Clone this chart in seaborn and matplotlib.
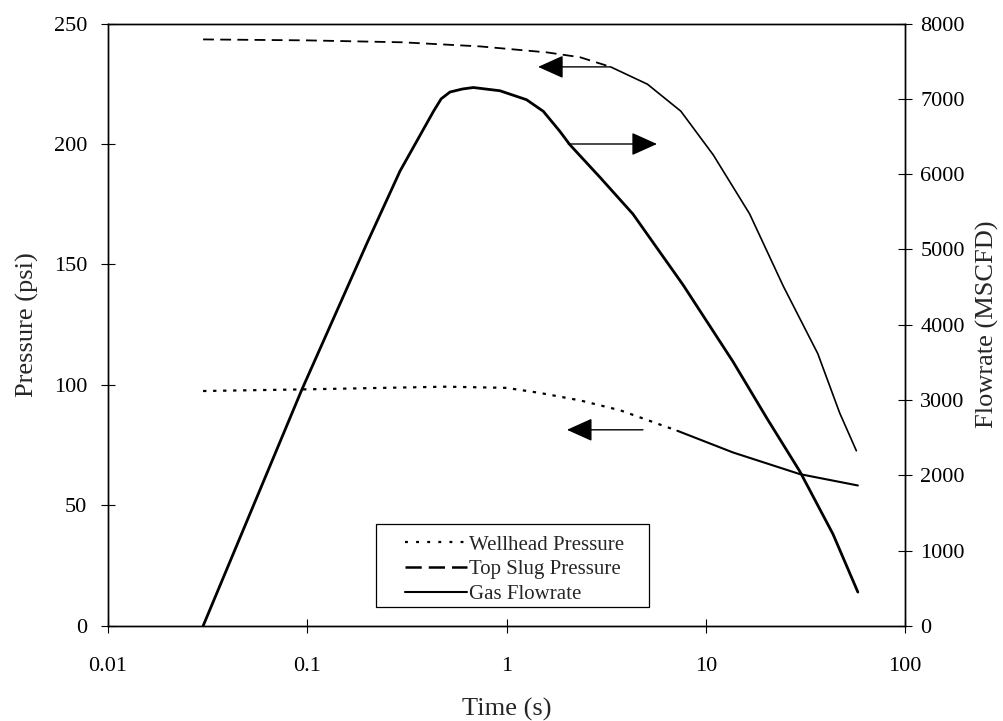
import matplotlib
matplotlib.use("Agg")
import matplotlib.pyplot as plt
import seaborn as sns
import pandas as pd
from matplotlib.lines import Line2D
from matplotlib.patches import Rectangle

# Top slug pressure (psi) vs time (s)
time_top = [0.03, 0.1, 0.3, 0.736, 1.6, 2.34, 3.33, 5.1, 7.5, 10.9, 16.6, 24.5, 36.5, 47, 57]
top_slug = [243.4, 243.0, 242.2, 240.5, 238.0, 236.0, 232.0, 224.8, 213.6, 195.5, 171.0, 141.0, 113.0, 88.4, 72.7]
top_split = 6

# Wellhead pressure (psi) vs time (s)
time_wh = [0.03, 0.1, 0.5, 1.0, 1.47, 2.34, 3.72, 7.2, 13.7, 29.7, 58]
wellhead = [97.5, 98.2, 99.3, 98.8, 96.7, 93.6, 89.5, 81.0, 72.0, 63.0, 58.3]
wh_split = 7

# Gas flowrate (MSCFD) vs time (s)
time_flow = [0.03, 0.0938, 0.1986, 0.292, 0.43, 0.47, 0.52, 0.6, 0.681, 0.927, 1.26, 1.53,
             1.85, 2.08, 2.94, 4.31, 7.69, 13.7, 20.3, 29.7, 43.5, 58]
flow = [0, 3135, 5073, 6040, 6834, 7000, 7090, 7130, 7150, 7107, 6988, 6834,
        6570, 6390, 5960, 5470, 4530, 3510, 2755, 2050, 1220, 450]

x_ticks = [0.01, 0.1, 1, 10, 100]
x_tick_labels = ["0.01", "0.1", "1", "10", "100"]
p_ticks = [0, 50, 100, 150, 200, 250]
q_ticks = [0, 1000, 2000, 3000, 4000, 5000, 6000, 7000, 8000]

sns.set_style("ticks")
plt.rcParams["font.family"] = ["Liberation Serif", "DejaVu Serif"]

fig = plt.figure(figsize=(10.04, 7.21), dpi=100)
ax = fig.add_axes([0.1076, 0.1318, 0.7938, 0.8356])
ax2 = ax.twinx()

top_df = pd.DataFrame({"t": time_top, "p": top_slug})
wh_df = pd.DataFrame({"t": time_wh, "p": wellhead})
flow_df = pd.DataFrame({"t": time_flow, "q": flow})

# pressure curves: broken style early, solid once the curve bends down
sns.lineplot(data=top_df.iloc[:top_split + 1], x="t", y="p", ax=ax, color="black",
             lw=1.3, linestyle=(0, (6, 3.5)), estimator=None, sort=False)
sns.lineplot(data=top_df.iloc[top_split:], x="t", y="p", ax=ax, color="black",
             lw=1.2, estimator=None, sort=False)
sns.lineplot(data=wh_df.iloc[:wh_split + 1], x="t", y="p", ax=ax, color="black",
             lw=1.6, linestyle=(0, (1.5, 3.0)), estimator=None, sort=False)
sns.lineplot(data=wh_df.iloc[wh_split:], x="t", y="p", ax=ax, color="black",
             lw=1.5, estimator=None, sort=False)

sns.lineplot(data=flow_df, x="t", y="q", ax=ax2, color="black", lw=2.0,
             estimator=None, sort=False)

ax.set_xscale("log")
ax.set_xlim(0.01, 100)
ax.set_ylim(0, 250)
ax2.set_ylim(0, 8000)

ax.set_xticks(x_ticks)
ax.set_xticklabels(x_tick_labels)
ax.xaxis.set_minor_locator(matplotlib.ticker.NullLocator())
ax.set_yticks(p_ticks)
ax2.set_yticks(q_ticks)

for a in (ax, ax2):
    a.tick_params(direction="inout", length=10, width=0.8, labelsize=16, colors="black")
    for s in a.spines.values():
        s.set_visible(True)
        s.set_color("black")
        s.set_linewidth(1.0)
ax.tick_params(axis="x", pad=17)
ax.tick_params(axis="y", pad=10)
ax2.tick_params(axis="y", pad=6)

ax.set_xlabel("Time (s)", fontsize=19, labelpad=16)
ax.set_ylabel("Pressure (psi)", fontsize=19)
ax2.set_ylabel("Flowrate (MSCFD)", fontsize=19, labelpad=8)
ax.yaxis.set_label_coords(-0.086, 0.5)

# arrows pointing each curve to its axis
arrow = dict(arrowstyle="-|>,head_length=0.8,head_width=0.36", color="black",
             lw=1.0, mutation_scale=20, shrinkA=0, shrinkB=0)
ax.annotate("", xy=(1.44, 232), xytext=(3.3, 232), arrowprops=arrow)
ax.annotate("", xy=(2.01, 81.4), xytext=(4.84, 81.4), arrowprops=arrow)
ax2.annotate("", xy=(5.69, 6400), xytext=(2.04, 6400), arrowprops=arrow)

handles = [
    Line2D([], [], color="black", lw=1.6, linestyle=(0, (1.3, 3.7))),
    Line2D([], [], color="black", lw=1.8, linestyle=(0, (6.5, 2.8))),
    Line2D([], [], color="black", lw=1.5),
]
labels = ["Wellhead Pressure", "Top Slug Pressure", "Gas Flowrate"]
if ax2.get_legend() is not None:
    ax2.get_legend().remove()
leg = ax2.legend(handles, labels, loc="lower left", bbox_to_anchor=(0.3726, 0.0365),
                 fontsize=15, frameon=False, handlelength=3.0, handletextpad=0.05,
                 borderpad=0, labelspacing=0.245, borderaxespad=0)
leg.set_zorder(6)
box = Rectangle((0.3363, 0.0315), 0.3425, 0.1378, transform=ax2.transAxes,
                facecolor="white", edgecolor="black", lw=0.9, zorder=5)
ax2.add_patch(box)

fig.savefig("out.png", dpi=100, facecolor="white")
